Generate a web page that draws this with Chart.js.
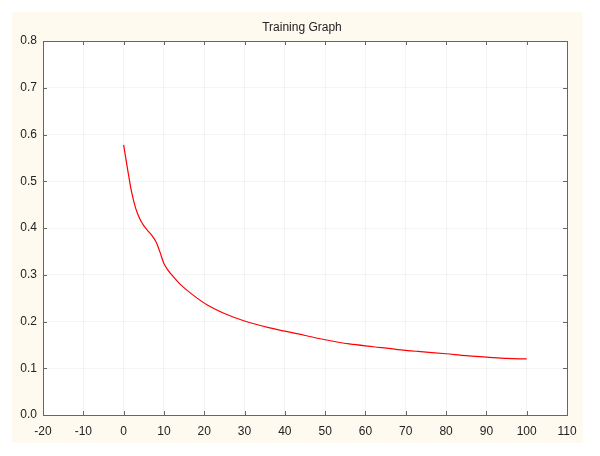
<!DOCTYPE html>
<html lang="en">
  <head>
    <meta charset="UTF-8" />
    <script src="https://cdn.jsdelivr.net/npm/chart.js@4.4.0/dist/chart.umd.min.js"></script>
    <title>Training Graph</title>
    <style>
      body { margin: 0; background: #fff; }
    </style>
  </head>
  <body>
    <canvas id="chart" width="600" height="456"></canvas>
    <script>
      // values
      let epochs = [0, 1, 2, 3, 4, 5, 6, 7, 8, 9, 10, 11, 12, 14, 17, 21, 25, 30, 36, 43, 50, 56, 62, 68, 73, 80, 85, 90, 95, 100];
      let loss = [0.578, 0.525, 0.476, 0.442, 0.42, 0.405, 0.394, 0.384, 0.371, 0.349, 0.324, 0.31, 0.299, 0.28, 0.258, 0.234, 0.217, 0.201, 0.187, 0.174, 0.161, 0.152, 0.146, 0.14, 0.136, 0.131, 0.127, 0.124, 0.121, 0.12];
      let xTicks = [-20, 110, 10];
      let yTicks = [0, 0.8, 0.1];
      let titleText = "Training Graph";

      let points = epochs.map((e, i) => ({ x: e, y: loss[i] }));
      let font = "Liberation Sans, Arial, sans-serif";

      // cream page, white plot box, frame, inward ticks and the title
      const backdrop = {
        id: "backdrop",
        beforeDraw(chart) {
          let ctx = chart.ctx;
          let a = chart.chartArea;
          ctx.save();
          ctx.fillStyle = "#fffaf0";
          ctx.fillRect(12, 12, 571, 431);
          ctx.fillStyle = "#ffffff";
          ctx.fillRect(a.left, a.top, a.right - a.left, a.bottom - a.top);
          ctx.restore();
        },
        afterDraw(chart) {
          let ctx = chart.ctx;
          let a = chart.chartArea;
          let xs = chart.scales.x;
          let ys = chart.scales.y;
          ctx.save();
          ctx.strokeStyle = "#666";
          ctx.lineWidth = 1;
          ctx.strokeRect(a.left + 0.5, a.top + 0.5, a.right - a.left, a.bottom - a.top);
          ctx.beginPath();
          xs.ticks.forEach((t) => {
            let px = Math.round(xs.getPixelForValue(t.value)) + 0.5;
            ctx.moveTo(px, a.bottom);
            ctx.lineTo(px, a.bottom - 4);
            ctx.moveTo(px, a.top);
            ctx.lineTo(px, a.top + 4);
          });
          ys.ticks.forEach((t) => {
            let py = Math.round(ys.getPixelForValue(t.value)) + 0.5;
            ctx.moveTo(a.left, py);
            ctx.lineTo(a.left + 4, py);
            ctx.moveTo(a.right, py);
            ctx.lineTo(a.right - 4, py);
          });
          ctx.stroke();
          ctx.fillStyle = "#222";
          ctx.font = "12px " + font;
          ctx.textAlign = "center";
          ctx.textBaseline = "middle";
          ctx.fillText(titleText, 302, 28);
          ctx.restore();
        },
      };

      let ctx = document.getElementById("chart").getContext("2d");
      let myChart = new Chart(ctx, {
        type: "line",
        data: {
          datasets: [
            {
              label: "loss",
              data: points,
              borderColor: "#ff0000",
              borderWidth: 1.2,
              pointRadius: 0,
              cubicInterpolationMode: "monotone",
              fill: false,
            },
          ],
        },
        options: {
          responsive: false,
          animation: false,
          layout: { padding: { left: 0, right: 33, top: 41, bottom: 0 } },
          plugins: {
            legend: { display: false },
            tooltip: { enabled: false },
            title: { display: false },
          },
          scales: {
            x: {
              type: "linear",
              min: xTicks[0],
              max: xTicks[1],
              ticks: {
                stepSize: xTicks[2],
                color: "#222",
                padding: 9,
                font: { family: font, size: 12 },
              },
              grid: { color: "rgba(0,0,0,0.045)", drawTicks: false },
              border: { display: false },
              afterFit(scale) {
                scale.height = 41;
              },
            },
            y: {
              min: yTicks[0],
              max: yTicks[1],
              ticks: {
                stepSize: yTicks[2],
                color: "#222",
                padding: 6,
                font: { family: font, size: 12 },
                callback: (v) => v.toFixed(1),
              },
              grid: { color: "rgba(0,0,0,0.045)", drawTicks: false },
              border: { display: false },
              afterFit(scale) {
                scale.width = 43;
              },
            },
          },
        },
        plugins: [backdrop],
      });
    </script>
  </body>
</html>
